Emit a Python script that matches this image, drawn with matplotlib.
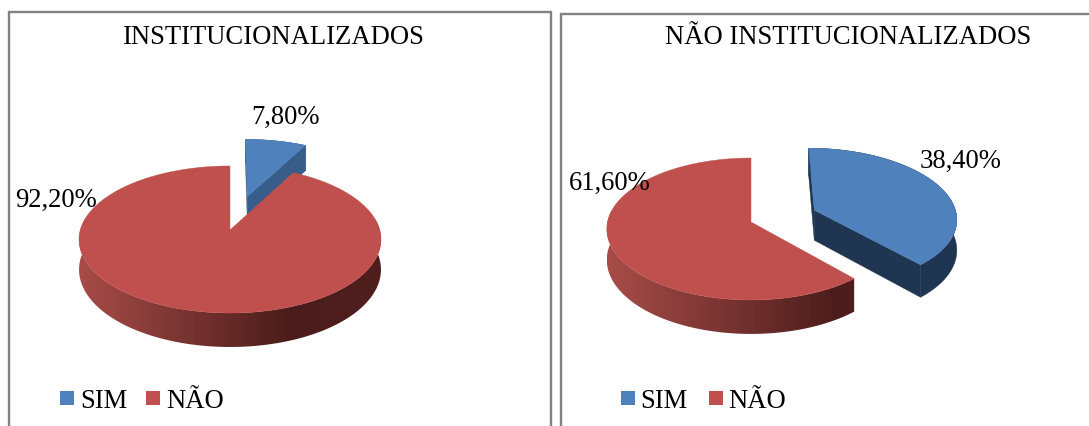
import numpy as np
import matplotlib
matplotlib.use('Agg')
import matplotlib.pyplot as plt
from matplotlib.patches import Polygon, Rectangle
from matplotlib.colors import LinearSegmentedColormap

plt.rcParams['font.family'] = ['Liberation Serif', 'DejaVu Serif']

# data
categories = ['SIM', 'NÃO']
inst_values = [7.8, 92.2]
nao_inst_values = [38.4, 61.6]
inst_labels = ['7,80%', '92,20%']
nao_inst_labels = ['38,40%', '61,60%']

W, H = 1089, 427
fig = plt.figure(figsize=(W / 100, H / 100), dpi=100)
ax = fig.add_axes([0, 0, 1, 1])
ax.set_xlim(0, W)
ax.set_ylim(H, 0)
ax.axis('off')

BLUE = '#4F81BD'
RED = '#C0504D'
GRAY = '#828282'
FS = 19.2


def project(th, r, off, g):
    # th clockwise from 12 o'clock, off = slice explosion along its bisector
    u = r * np.sin(th) + off[0]
    v = r * np.cos(th) + off[1]
    w = 1 + g['p'] * v
    return g['cx'] + g['rx'] * u / w, g['cy'] - g['ry'] * v / w, g['h'] / w


def draw_slice(start, stop, g, explode, top_col, wall_col, dark_at=None):
    mid = (start + stop) / 2
    off = (explode * np.sin(mid), explode * np.cos(mid))
    th = np.linspace(start, stop, 300)
    x, y, d = project(th, 1.0, off, g)
    ax_, ay_, ad_ = project(0.0, 0.0, off, g)

    top = np.column_stack([np.r_[ax_, x], np.r_[ay_, y]])
    outer = np.column_stack([np.r_[x, x[::-1]], np.r_[y, (y + d)[::-1]]])
    cut1 = [(ax_, ay_), (x[0], y[0]), (x[0], y[0] + d[0]), (ax_, ay_ + ad_)]
    cut2 = [(ax_, ay_), (x[-1], y[-1]), (x[-1], y[-1] + d[-1]), (ax_, ay_ + ad_)]

    if dark_at is None:
        for pts in (cut1, cut2, outer):
            ax.add_patch(Polygon(pts, closed=True, fc=wall_col, ec=wall_col, lw=0.3, zorder=g['z']))
    else:
        # shaded side wall of the big slice
        cmap = LinearSegmentedColormap.from_list(
            'wall', [(0, '#A84C48'), (dark_at, '#4A1C1B'), (1, '#4F1F1E')])
        front = y > g['cy'] - 12
        xf, yf, df = x[front], y[front], d[front]
        clip = np.column_stack([np.r_[xf, xf[::-1]], np.r_[yf, (yf + df)[::-1]]])
        poly = Polygon(clip, closed=True, transform=ax.transData)
        im = ax.imshow(np.linspace(0, 1, 256)[None, :], cmap=cmap, aspect='auto',
                       extent=(xf.min(), xf.max(), yf.max() + df.max(), yf.min()),
                       zorder=g['z'], interpolation='bilinear')
        im.set_clip_path(poly)
    ax.add_patch(Polygon(top, closed=True, fc=top_col, ec=top_col, lw=0.3, zorder=g['z'] + 1))


def draw_pie(values, g, explode, wall_blue, dark_at):
    frac = np.cumsum([0] + list(values)) / sum(values) * 2 * np.pi
    g = dict(g, z=2)
    draw_slice(frac[0], frac[1], g, explode, BLUE, wall_blue)
    g = dict(g, z=4)
    draw_slice(frac[1], frac[2], g, 0.0, RED, None, dark_at=dark_at)


def draw_panel(x0, x1, ytop, title, tx, values, labels, label_pos, g, explode, wall_blue, dark_at, leg):
    ax.plot([x0, x0, x1, x1], [H + 3, ytop, ytop, H + 3], color=GRAY, lw=1.7, zorder=1,
            solid_joinstyle='miter')
    ax.text(tx, 37.5, title, ha='center', va='center', fontsize=FS, color='black', zorder=8)
    draw_pie(values, g, explode, wall_blue, dark_at)
    for s, (px, py) in zip(labels, label_pos):
        ax.text(px, py, s, ha='center', va='center', fontsize=FS, color='black', zorder=8)
    for (sx, tx_), col, name in zip(leg, (BLUE, RED), categories):
        ax.add_patch(Rectangle((sx, 391.5), 14, 14.5, fc=col, ec='none', zorder=8))
        ax.text(tx_, 401.5, name, ha='left', va='center', fontsize=FS, color='black', zorder=8)


geom_left = dict(cx=230, cy=231, rx=149.7, ry=72.3, p=0.129, h=29.6)
geom_right = dict(cx=751, cy=223, rx=143.5, ry=70.3, p=0.0986, h=30.6)

draw_panel(8.5, 551.3, 13.2, 'INSTITUCIONALIZADOS', 274, inst_values, inst_labels,
           [(285.5, 117), (56.5, 200)], geom_left, 0.51, '#385D8A', 0.7, [(60, 80), (146, 166)])
draw_panel(560.5, W + 3, 14.5, 'NÃO INSTITUCIONALIZADOS', 848, nao_inst_values, nao_inst_labels,
           [(961, 161), (610, 183)], geom_right, 0.48, '#1F3552', 0.95, [(621, 640), (709, 728)])

ax.set_xlim(0, W)
ax.set_ylim(H, 0)
fig.savefig('out.png', dpi=100)
